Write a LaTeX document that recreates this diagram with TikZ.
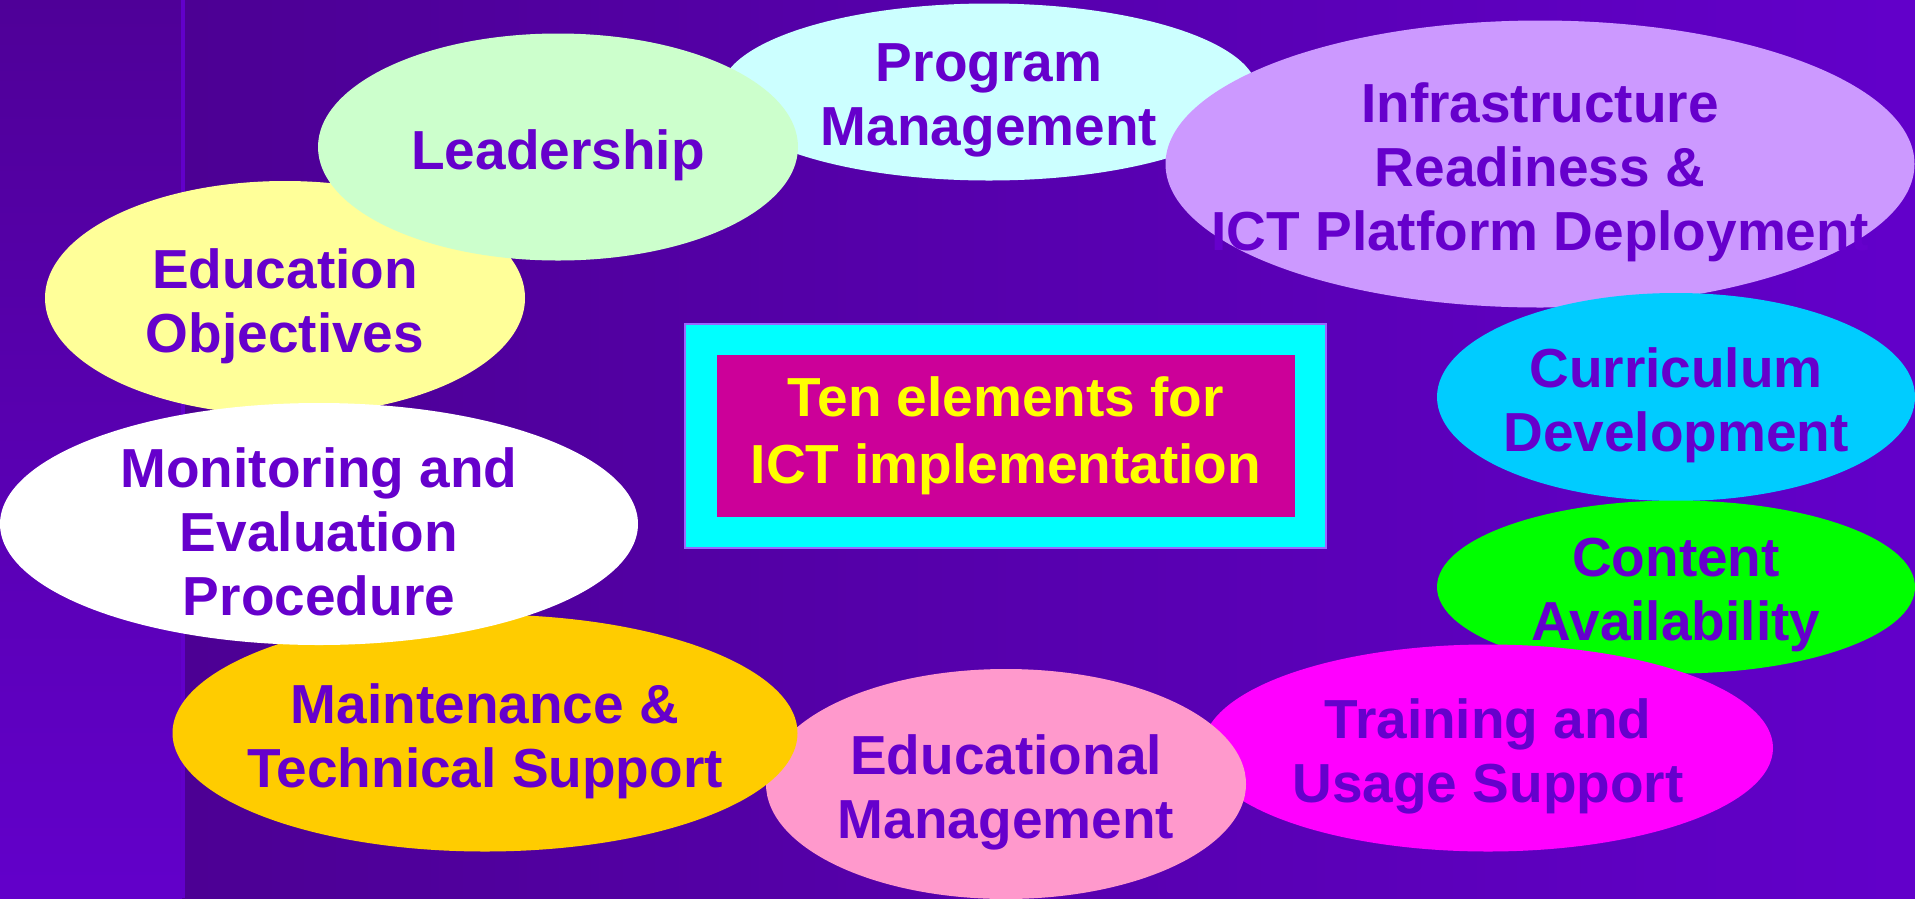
\documentclass[tikz,border=0pt]{standalone}
\usepackage{fontspec}
\setmainfont{Liberation Sans}
\usetikzlibrary{shapes.geometric}

\definecolor{bgdark}{HTML}{4A008E}
\definecolor{bglight}{HTML}{6200CA}
\definecolor{stripdark}{HTML}{4F0098}
\definecolor{txtviolet}{HTML}{6600CC}
\definecolor{leadgreen}{HTML}{CCFFCC}
\definecolor{pmcyan}{HTML}{CCFFFF}
\definecolor{infralilac}{HTML}{CC99FF}
\definecolor{objyellow}{HTML}{FFFF99}
\definecolor{currblue}{HTML}{00CCFF}
\definecolor{contgreen}{HTML}{00FF00}
\definecolor{maintgold}{HTML}{FFCC00}
\definecolor{mgmtpink}{HTML}{FF99CC}
\definecolor{trainmag}{HTML}{FF00FF}
\definecolor{titlebox}{HTML}{CC0099}
\definecolor{framecyan}{HTML}{00FFFF}
\definecolor{frameline}{HTML}{9966FF}
\definecolor{titleyellow}{HTML}{FFFF00}

\begin{document}
\begin{tikzpicture}[x=1pt,y=-1pt,
    elem/.style={ellipse,inner sep=0pt},
    elemtext/.style={align=center,text=txtviolet,inner sep=0pt,yshift=-8pt,%
      font=\fontsize{55}{64}\selectfont\bfseries}]
      \useasboundingbox (0,0) rectangle (1915,898) ;
      \shade[left color=bgdark,right color=bglight] (0,0) rectangle (1915,898) ;
      \shade[top color=stripdark,bottom color=bglight] (0,0) rectangle (182,898) ;
      \draw[bglight,line width=4pt] (183,0)--(183,898) ;
      % ellipses, back to front
      \node[elem,fill=pmcyan,minimum width=537,minimum height=177,%
      label={[elemtext]center:Program\\Management}] (pm) at (989,92) {} ;
      \node[elem,fill=infralilac,minimum width=749,minimum height=287,%
      label={[elemtext]center:Infrastructure\\Readiness \&\\ICT Platform Deployment}] %
      (infra) at (1540,164) {} ;
      \node[elem,fill=currblue,minimum width=478,minimum height=208,%
      label={[elemtext]center:Curriculum\\Development}] (curr) at (1676,397) {} ;
      \node[elem,fill=contgreen,minimum width=478,minimum height=173,%
      label={[elemtext]center:Content\\Availability}] (cont) at (1676,587) {} ;
      \node[elem,fill=trainmag,minimum width=570,minimum height=207,%
      label={[elemtext]center:Training and\\Usage Support}] (train) at (1488,748) {} ;
      \node[elem,fill=mgmtpink,minimum width=480,minimum height=230,%
      label={[elemtext]center:Educational\\Management}] (mgmt) at (1006,784) {} ;
      \node[elem,fill=maintgold,minimum width=625,minimum height=237,%
      label={[elemtext]center:Maintenance \&\\Technical Support}] (maint) at (485,733) {} ;
      \node[elem,fill=objyellow,minimum width=480,minimum height=234,%
      label={[elemtext]center:Education\\Objectives}] (obj) at (285,298) {} ;
      \node[elem,fill=white,minimum width=638,minimum height=242,%
      label={[elemtext]center:Monitoring and\\Evaluation\\Procedure}] (monit) at (319,524) {} ;
      \node[elem,fill=leadgreen,minimum width=480,minimum height=227,%
      label={[elemtext]center:Leadership}] (lead) at (558,147) {} ;
      % centre box
      \node[fill=framecyan,draw=frameline,line width=1.5pt,inner sep=0pt,%
      minimum width=641,minimum height=224] (frame) at (1005.5,436) {} ;
      \node[fill=titlebox,inner sep=0pt,minimum width=578,minimum height=162,%
      align=center,text=titleyellow,font=\fontsize{55}{67}\selectfont\bfseries] %
      (title) at (1006,436) {Ten elements for\\ICT implementation} ;
    \end{tikzpicture}
\end{document}
